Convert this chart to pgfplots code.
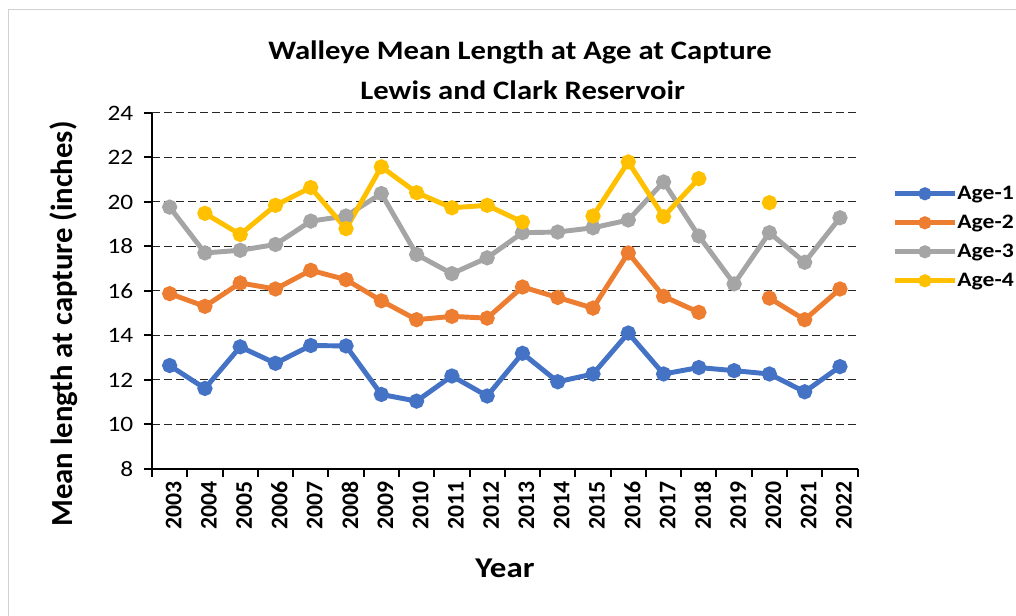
\documentclass[border=0pt]{standalone}
\usepackage{pgfplots}
\pgfplotsset{compat=1.18}
\usepackage{fontspec}
\setmainfont{Carlito}[FakeStretch=1.15]
\newfontfamily\rotfont{Carlito}
\definecolor{cA}{HTML}{4472C4}
\definecolor{cB}{HTML}{ED7D31}
\definecolor{cC}{HTML}{A5A5A5}
\definecolor{cD}{HTML}{FFC000}
\pgfplotstableread{
x a1 a2 a3 a4
0 12.65 15.88 19.77 nan
1 11.62 15.31 17.71 19.49
2 13.49 16.36 17.83 18.54
3 12.75 16.09 18.09 19.85
4 13.55 16.93 19.14 20.65
5 13.53 16.51 19.37 18.80
6 11.35 15.56 20.38 21.58
7 11.05 14.71 17.64 20.42
8 12.18 14.86 16.78 19.74
9 11.28 14.78 17.49 19.85
10 13.20 16.18 18.62 19.10
11 11.92 15.71 18.65 nan
12 12.27 15.23 18.84 19.37
13 14.11 17.71 19.19 21.80
14 12.27 15.76 20.90 19.34
15 12.56 15.04 18.47 21.05
16 12.42 nan 16.32 nan
17 12.27 15.68 18.62 19.97
18 11.47 14.71 17.29 nan
19 12.60 16.09 19.29 nan
}\datatable
\begin{document}
\begin{tikzpicture}
\useasboundingbox (0,0) rectangle (762pt,462pt);
\draw[black!18, line width=0.75pt] (6pt,0pt) -- (6pt,454.5pt) -- (762pt,454.5pt);
\node[font=\bfseries\fontsize{20}{24}\selectfont] at (390pt,423pt) {Walleye Mean Length at Age at Capture};
\node[font=\bfseries\fontsize{20}{24}\selectfont] at (392pt,394.5pt) {Lewis and Clark Reservoir};
\node[rotate=90, font=\rotfont\bfseries\fontsize{23}{24}\selectfont] at (48pt,219pt) {Mean length at capture (inches)};
\node[anchor=base, font=\bfseries\fontsize{21.5}{24}\selectfont] at (378.75pt,28.5pt) {Year};
\begin{axis}[
  at={(114pt,110.25pt)}, anchor=south west,
  width=529.2pt, height=267pt, scale only axis,
  xmin=-0.5, xmax=19.5, ymin=8, ymax=24,
  axis x line*=bottom, axis y line*=left,
  axis line style={line width=2pt, -},
  xtick={-0.5,0.5,...,19.5},
  x tick label as interval,
  xticklabels={2003,2004,2005,2006,2007,2008,2009,2010,2011,2012,2013,2014,2015,2016,2017,2018,2019,2020,2021,2022},
  ytick={8,10,...,24},
  ymajorgrids,
  major grid style={black!85, line width=0.75pt, dash pattern=on 6pt off 3pt},
  tick align=outside, major tick length=6pt,
  tick style={black, line width=1.5pt},
  xticklabel style={rotate=90, anchor=east, yshift=-3pt, font=\rotfont\bfseries\fontsize{17.8}{18}\selectfont},
  yticklabel style={xshift=-4.5pt, font=\fontsize{16.5}{17}\selectfont},
  /pgf/number format/assume math mode=true,
  unbounded coords=jump,
  every axis plot/.append style={line width=3.7pt, mark=*, mark size=3.8pt},
  legend style={at={(1.049,0.80)}, anchor=north west, draw=none, fill=none,
    font=\bfseries\fontsize{15.4}{16}\selectfont, inner sep=0pt,
    nodes={inner sep=0pt, text height=11pt, text depth=3pt}, row sep=7.75pt},
  legend cell align=left,
  legend image code/.code={\draw[#1, mark=none] (0pt,0pt) -- (45pt,0pt);
    \draw[#1, mark size=3pt] plot coordinates {(22.5pt,0pt)};},
]
\addplot[color=cA, mark options={fill=cA}] table[x=x,y=a1] {\datatable};
\addlegendentry{Age-1}
\addplot[color=cB, mark options={fill=cB}] table[x=x,y=a2] {\datatable};
\addlegendentry{Age-2}
\addplot[color=cC, mark options={fill=cC}] table[x=x,y=a3] {\datatable};
\addlegendentry{Age-3}
\addplot[color=cD, mark options={fill=cD}] table[x=x,y=a4] {\datatable};
\addlegendentry{Age-4}
\end{axis}
\end{tikzpicture}
\end{document}
